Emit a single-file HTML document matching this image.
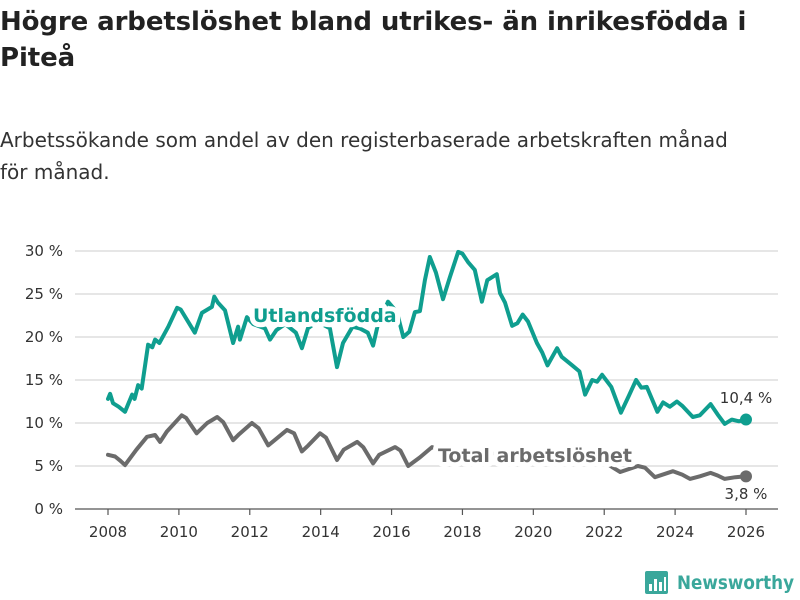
<!DOCTYPE html>
<html><head><meta charset="utf-8"><style>
body{margin:0;background:#fff;width:800px;height:600px;overflow:hidden;font-family:"DejaVu Sans","Liberation Sans",sans-serif;color:#222}
h1{position:absolute;left:0;top:4px;margin:0;font-size:26px;font-weight:bold;line-height:36px;width:795px;letter-spacing:-0.1px}
p.sub{position:absolute;left:0;top:124px;margin:0;font-size:20px;line-height:32px;width:735px;color:#333;white-space:nowrap}
svg{position:absolute;left:0;top:0}
</style></head><body>
<h1>Högre arbetslöshet bland utrikes- än inrikesfödda i Piteå</h1>
<p class="sub">Arbetssökande som andel av den registerbaserade arbetskraften månad<br>för månad.</p>
<svg id="chart" width="800" height="600"></svg>
<script>
const yTicks=[0,5,10,15,20,25,30];
const yTickLabels=["0 %","5 %","10 %","15 %","20 %","25 %","30 %"];
const xTicks=[2008,2010,2012,2014,2016,2018,2020,2022,2024,2026];
const utlTimes=[2008.0,2008.06,2008.14,2008.3,2008.48,2008.68,2008.75,2008.85,2008.95,2009.13,2009.25,2009.33,2009.45,2009.7,2009.95,2010.05,2010.45,2010.65,2010.93,2011.0,2011.1,2011.3,2011.53,2011.67,2011.72,2011.92,2012.1,2012.43,2012.57,2012.75,2013.0,2013.3,2013.47,2013.64,2013.9,2014.26,2014.46,2014.63,2014.9,2015.1,2015.33,2015.48,2015.6,2015.9,2016.15,2016.33,2016.5,2016.66,2016.8,2016.94,2017.08,2017.25,2017.45,2017.65,2017.88,2018.0,2018.16,2018.35,2018.55,2018.7,2018.97,2019.06,2019.2,2019.4,2019.55,2019.7,2019.85,2020.1,2020.25,2020.4,2020.67,2020.8,2021.1,2021.3,2021.46,2021.66,2021.8,2021.94,2022.2,2022.47,2022.7,2022.9,2023.05,2023.2,2023.5,2023.66,2023.85,2024.05,2024.2,2024.5,2024.7,2025.0,2025.2,2025.4,2025.6,2025.8,2026.0];
const utlValues=[12.8,13.4,12.3,11.9,11.3,13.3,12.8,14.4,14.0,19.1,18.8,19.7,19.3,21.2,23.4,23.2,20.5,22.8,23.5,24.7,24.0,23.1,19.3,21.2,19.7,22.3,21.5,21.0,19.7,20.8,21.5,20.5,18.7,21.0,21.8,21.0,16.5,19.3,21.2,21.0,20.5,19.0,21.2,24.1,22.9,20.0,20.6,22.9,23.0,26.6,29.3,27.5,24.4,27.0,29.9,29.7,28.7,27.8,24.1,26.6,27.3,25.1,24.0,21.3,21.6,22.6,21.8,19.3,18.2,16.7,18.7,17.7,16.7,16.0,13.3,15.0,14.8,15.6,14.2,11.2,13.2,15.0,14.1,14.2,11.3,12.4,11.9,12.5,12.0,10.7,10.9,12.2,11.0,9.9,10.4,10.2,10.4];
const totTimes=[2008.0,2008.2,2008.35,2008.48,2008.8,2009.1,2009.33,2009.47,2009.66,2010.08,2010.2,2010.5,2010.8,2011.08,2011.25,2011.53,2011.7,2012.06,2012.25,2012.52,2012.7,2013.05,2013.25,2013.47,2013.65,2013.98,2014.15,2014.46,2014.65,2015.03,2015.2,2015.48,2015.65,2016.1,2016.25,2016.47,2016.8,2017.14,2017.5,2018.0,2018.5,2019.0,2019.5,2020.0,2020.5,2021.0,2021.5,2022.0,2022.25,2022.45,2022.95,2023.15,2023.43,2023.94,2024.2,2024.42,2024.7,2025.0,2025.2,2025.4,2025.7,2026.0];
const totValues=[6.3,6.1,5.6,5.1,6.9,8.4,8.6,7.8,9.0,10.9,10.6,8.8,10.0,10.7,10.1,8.0,8.7,10.0,9.4,7.4,8.0,9.2,8.8,6.7,7.4,8.8,8.3,5.7,6.9,7.8,7.2,5.3,6.3,7.2,6.8,5.0,6.0,7.2,6.5,6.8,6.2,6.5,6.0,5.8,6.3,5.6,5.8,5.5,4.8,4.3,5.0,4.8,3.7,4.4,4.0,3.5,3.8,4.2,3.9,3.5,3.7,3.8];
const NS="http://www.w3.org/2000/svg";
const svg=document.getElementById('chart');
const X0=75,X1=778;
function xs(t){return 108+(t-2008)*(746-108)/18;}
function ys(v){return 509-v*(509-251)/30;}
function mk(tag,attrs,parent){const e=document.createElementNS(NS,tag);for(const k in attrs)e.setAttribute(k,attrs[k]);(parent||svg).appendChild(e);return e;}
yTicks.forEach((v,i)=>{
  const g=mk('line',{x1:X0,x2:X1,y1:ys(v),y2:ys(v),stroke:v===0?'#555':'#ddd','stroke-width':v===0?1.3:1.5});
  
  
  const t=mk('text',{x:63,y:ys(v)+5,'text-anchor':'end','font-size':15,fill:'#333'});
  t.textContent=yTickLabels[i];
  
  
});
xTicks.forEach(yr=>{
  const l=mk('line',{x1:xs(yr),x2:xs(yr),y1:509,y2:515,stroke:'#555','stroke-width':1.2});
  
  
  const t=mk('text',{x:xs(yr),y:537,'text-anchor':'middle','font-size':15,fill:'#333'});
  t.textContent=yr;
  
  
});
function path(ts,vs,color,name){
  const d=ts.map((t,i)=>(i?'L':'M')+xs(t).toFixed(1)+','+ys(vs[i]).toFixed(1)).join('');
  const p=mk('path',{d:d,fill:'none',stroke:color,'stroke-width':4,'stroke-linejoin':'round','stroke-linecap':'round'});
  
  
  const n=ts.length-1;
  const c=mk('circle',{cx:xs(ts[n]),cy:ys(vs[n]),r:6,fill:color});
  
  
}
path(totTimes,totValues,'#6b6b6b','total-line');
path(utlTimes,utlValues,'#0f9e8f','utlandsfodda-line');
function label(txt,x,y,color,name){
  const t=mk('text',{x:x,y:y,'font-size':19,'font-weight':'bold',fill:color,stroke:'#fff','stroke-width':10,'paint-order':'stroke','stroke-linejoin':'round'});
  t.textContent=txt;
  
  
}
label('Utlandsfödda',253,322,'#0f9e8f','utlandsfodda-label');
label('Total arbetslöshet',438,462,'#6b6b6b','total-label');
function endLabel(txt,x,y,name){
  const t=mk('text',{x:x,y:y,'text-anchor':'middle','font-size':15,fill:'#333',stroke:'#fff','stroke-width':4,'paint-order':'stroke'});
  t.textContent=txt;
  
  
}
endLabel('10,4 %',746,403,'utlandsfodda-end-value');
endLabel('3,8 %',746,499,'total-end-value');
const lg=mk('g',{});


mk('rect',{x:645,y:571,width:23,height:23,rx:2,fill:'#3aa79b'},lg);
[[649,584,3,7],[654,579,3,12],[659,582,3,9],[664,577,2,14]].forEach(b=>mk('rect',{x:b[0],y:b[1],width:b[2],height:b[3],fill:'#fff'},lg));
const lt=mk('text',{x:677,y:589,'font-size':19,'font-weight':'bold',fill:'#3aa79b',textLength:117,lengthAdjust:'spacingAndGlyphs'},lg);
lt.textContent='Newsworthy';
</script>
</body></html>
